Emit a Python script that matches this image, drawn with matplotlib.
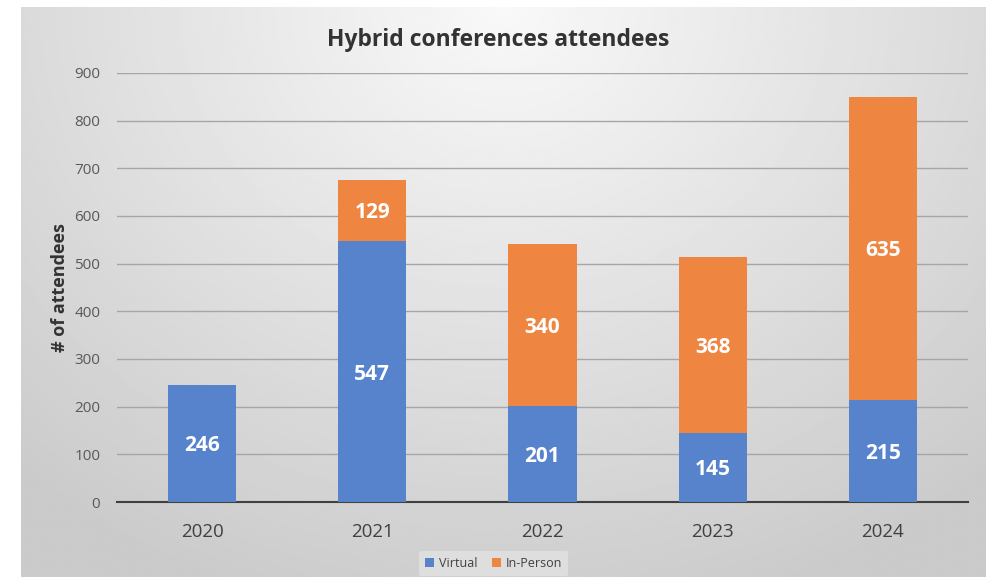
import numpy as np
import matplotlib.pyplot as plt

years = ['2020', '2021', '2022', '2023', '2024']
virtual = [246, 547, 201, 145, 215]
in_person = [0, 129, 340, 368, 635]

blue = '#5782CC'
orange = '#EE8642'

plt.rcParams['font.family'] = ['Open Sans', 'DejaVu Sans']

fig = plt.figure(figsize=(9.87, 5.77), dpi=100, facecolor='white')

# gray radial gradient background
bg = fig.add_axes([21 / 987, 0, 1 - 21 / 987, 570 / 577])
yy, xx = np.mgrid[0:1:300j, 0:1:500j]
r = np.sqrt(((xx - 0.5) / 0.75) ** 2 + (yy / 1.1) ** 2)
shade = 0.975 - 0.18 * np.clip(r, 0, 1)
bg.imshow(shade, cmap='gray', vmin=0, vmax=1, aspect='auto', extent=[0, 1, 0, 1], origin='upper')
bg.axis('off')

ax = fig.add_axes([117 / 987, 75 / 577, (968 - 117) / 987, (502 - 73) / 577])
ax.patch.set_alpha(0)
x = np.arange(len(years))
ax.bar(x, virtual, width=0.4, color=blue, label='Virtual', zorder=3)
ax.bar(x, in_person, width=0.4, bottom=virtual, color=orange, label='In-Person', zorder=3)

for i in range(len(years)):
    ax.text(x[i], virtual[i] / 2 - 5, str(virtual[i]), ha='center', va='center',
            color='white', fontsize=15, fontweight='bold', zorder=4)
    if in_person[i] > 0:
        ax.text(x[i], virtual[i] + in_person[i] / 2 - 5, str(in_person[i]), ha='center',
                va='center', color='white', fontsize=15, fontweight='bold', zorder=4)

ax.set_xlim(-0.5, 4.5)
ax.set_ylim(0, 900)
ax.set_yticks(range(0, 901, 100))
ax.set_xticks(x)
ax.set_xticklabels(years)
ax.grid(axis='y', color='#a6a6a6', linewidth=1, zorder=0)
for s in ['top', 'right', 'left']:
    ax.spines[s].set_visible(False)
ax.spines['bottom'].set_color('#404040')
ax.spines['bottom'].set_linewidth(1.5)
ax.tick_params(axis='y', length=0, labelsize=11, labelcolor='#595959', pad=12)
ax.tick_params(axis='x', length=0, labelsize=13.5, labelcolor='#404040', pad=15)
ax.set_ylabel('# of attendees', fontsize=13, fontweight='bold', color='#333333', labelpad=4)

fig.text(0.505, 0.93, 'Hybrid conferences attendees', ha='center', va='center',
         fontsize=16.5, fontweight='bold', color='#333333')

leg = fig.legend(loc='center', bbox_to_anchor=(0.5, 0.023), ncol=2, fontsize=9,
                 frameon=True, handlelength=0.7, handleheight=0.7, handletextpad=0.4,
                 columnspacing=1.2, borderpad=0.5)
leg.get_frame().set_facecolor('#e2e2e2')
leg.get_frame().set_edgecolor('none')
leg.get_frame().set_alpha(0.8)
for t in leg.get_texts():
    t.set_color('#404040')

fig.savefig('out.png', dpi=100, facecolor='white')
